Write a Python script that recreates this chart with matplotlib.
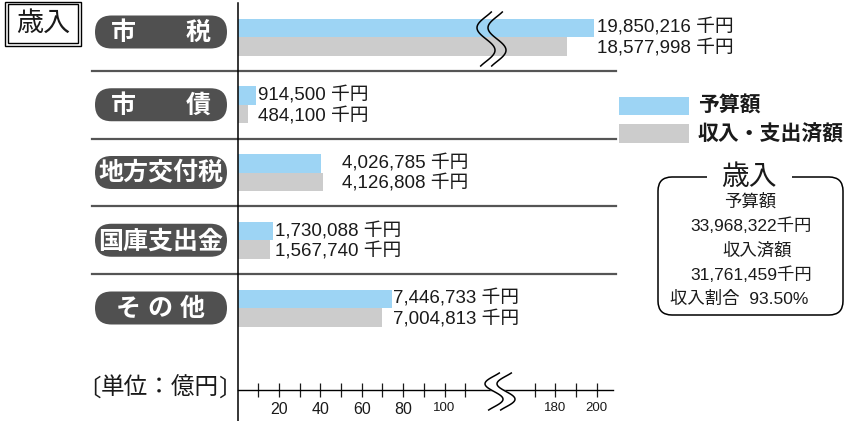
import numpy as np
import matplotlib.pyplot as plt
from matplotlib.patches import FancyBboxPatch, Rectangle

plt.rcParams['font.family'] = ['Liberation Sans', 'Noto Sans CJK JP']

# 歳入データ（単位：千円）
categories = ['市　　税', '市　　債', '地方交付税', '国庫支出金', 'そ の 他']
budget = [19850216, 914500, 4026785, 1730088, 7446733]
actual = [18577998, 484100, 4126808, 1567740, 7004813]
total_budget = 33968322
total_actual = 31761459
ratio_text = '93.50%'

# 目盛（億円）
tick_values = [10, 20, 30, 40, 50, 60, 70, 80, 90, 100, 110, 170, 180, 190, 200]
tick_labels = ['', '20', '', '40', '', '60', '', '80', '', '100', '', '', '180', '', '200']

BLUE = '#9dd4f4'
GRAY = '#cccccc'
PILL = '#505050'
TXT = '#1a1a1a'

# 110〜170 の間を省略する
SHIFT = 26.5


def squash(v):
    v = np.asarray(v, dtype=float)
    return np.where(v > 140, v - SHIFT, v)


W, H = 846, 421
fig = plt.figure(figsize=(W / 100, H / 100), dpi=100)

# 棒グラフ本体
x0, x1, ybot = 237.5, 613, 390
xmax = (x1 - x0) / 2.07
ax = fig.add_axes([x0 / W, (H - ybot) / H, (x1 - x0) / W, ybot / H])
ax.set_xlim(0, xmax)
ax.set_ylim((ybot - 37) / 67.75, -37 / 67.75)
ax.patch.set_alpha(0)

rows = np.arange(len(categories))
h = 18.5 / 67.75
b_oku = np.array(budget) / 1e5
a_oku = np.array(actual) / 1e5
ax.barh(rows - h / 2, squash(b_oku), height=h, color=BLUE, zorder=2)
ax.barh(rows + h / 2, squash(a_oku), height=h, color=GRAY, zorder=2)

# 金額ラベル
gaps = [1.5, 0.8, 9.0, 0.8, 0.8]
for i in rows:
    xl = max(squash(b_oku[i]), squash(a_oku[i])) + gaps[i]
    ax.text(xl, i - h / 2, f'{budget[i]:,} 千円', va='center', fontsize=13.5, color=TXT)
    ax.text(xl, i + h / 2 + 0.03, f'{actual[i]:,} 千円', va='center', fontsize=13.5, color=TXT)

# 区切り線
for i in rows[:-1]:
    ax.axhline(i + 0.5, xmin=(92 - x0) / (x1 - x0), xmax=(616 - x0) / (x1 - x0),
               color='#555555', lw=1.6, clip_on=False, zorder=1)

for s in ['top', 'right', 'left']:
    ax.spines[s].set_visible(False)
ax.spines['bottom'].set_linewidth(1.0)
ax.set_yticks([])
ax.set_xticks(squash(tick_values))
ax.set_xticklabels(tick_labels)
ax.tick_params(axis='x', direction='inout', length=10, width=0.9, pad=3.5, colors=TXT)
for lab, v in zip(ax.get_xticklabels(), tick_values):
    lab.set_fontsize(11.5 if v < 100 else 9.5)

# 装飾用（ピクセル座標）
ov = fig.add_axes([0, 0, 1, 1], zorder=5)
ov.set_xlim(0, W)
ov.set_ylim(H, 0)
ov.axis('off')
ov.patch.set_alpha(0)


def row_px(r):
    return H - ax.transData.transform((0, r))[1]


ov.plot([x0, x0], [3, H], color='black', lw=1.1)

# 項目名の札
for i, name in enumerate(categories):
    yc = row_px(i) - (5 if i == 0 else 0)
    ov.add_patch(FancyBboxPatch((95, yc - 16.5), 132, 33,
                                boxstyle='round,pad=0,rounding_size=16.5',
                                fc=PILL, ec='none'))
    ov.text(161, yc + 1, name, ha='center', va='center', color='white',
            fontsize=18, fontweight='bold')


# 省略記号
def s_curve(xc, ytop, height, a):
    t = np.linspace(0, 1, 60)
    u = -0.1 + 1.2 * t
    return xc - a * np.sin(2 * np.pi * u), ytop + t * height


xa, ya = s_curve(486, 12, 54, 9)
xb, yb = s_curve(497, 12, 54, 9)
ov.plot(xa, ya, color='black', lw=1.1)
ov.plot(xb, yb, color='black', lw=1.1)

xa, ya = s_curve(494, 373, 37, 9)
xb, yb = s_curve(506, 373, 37, 9)
ov.fill(np.r_[xa, xb[::-1]], np.r_[ya, yb[::-1]], color='white', zorder=1)
ov.plot(xa, ya, color='black', lw=1.1, zorder=2)
ov.plot(xb, yb, color='black', lw=1.1, zorder=2)

# 単位
ov.text(89, 389, '〔', ha='center', va='center', fontsize=17, color=TXT)
ov.text(160, 389, '単位：億円', ha='center', va='center', fontsize=17, color=TXT)
ov.text(230, 389, '〕', ha='center', va='center', fontsize=17, color=TXT)

# 左上の見出し
ov.add_patch(Rectangle((4.7, 1.7), 76.3, 44.3, fc='none', ec='black', lw=1))
ov.add_patch(Rectangle((7.5, 4.2), 70.7, 39.3, fc='none', ec='black', lw=1))
ov.text(43, 24, '歳入', ha='center', va='center', fontsize=19.5, color=TXT)

# 凡例
ov.add_patch(Rectangle((619, 97), 70, 18, fc=BLUE, ec='none'))
ov.add_patch(Rectangle((619, 124), 70, 19, fc=GRAY, ec='none'))
ov.text(698, 106, '予算額', va='center', fontsize=15, fontweight='bold', color=TXT)
ov.text(698, 134, '収入・支出済額', va='center', fontsize=15, fontweight='bold', color=TXT)

# 歳入合計の枠
ov.add_patch(FancyBboxPatch((658, 177), 185, 138,
                            boxstyle='round,pad=0,rounding_size=14',
                            fc='none', ec='black', lw=1.1))
ov.add_patch(Rectangle((707, 170), 85, 14, fc='white', ec='none', zorder=3))
ov.text(749, 178, '歳入', ha='center', va='center', fontsize=20, color=TXT, zorder=4)
ov.text(750, 202, '予算額', ha='center', va='center', fontsize=12.5, color=TXT)
ov.text(751, 226, f'{total_budget:,}千円', ha='center', va='center', fontsize=12.5, color=TXT)
ov.text(757, 251, '収入済額', ha='center', va='center', fontsize=12.5, color=TXT)
ov.text(751, 275, f'{total_actual:,}千円', ha='center', va='center', fontsize=12.5, color=TXT)
ov.text(670, 299, f'収入割合  {ratio_text}', ha='left', va='center', fontsize=12.5, color=TXT)

fig.savefig('out.png', dpi=100)
